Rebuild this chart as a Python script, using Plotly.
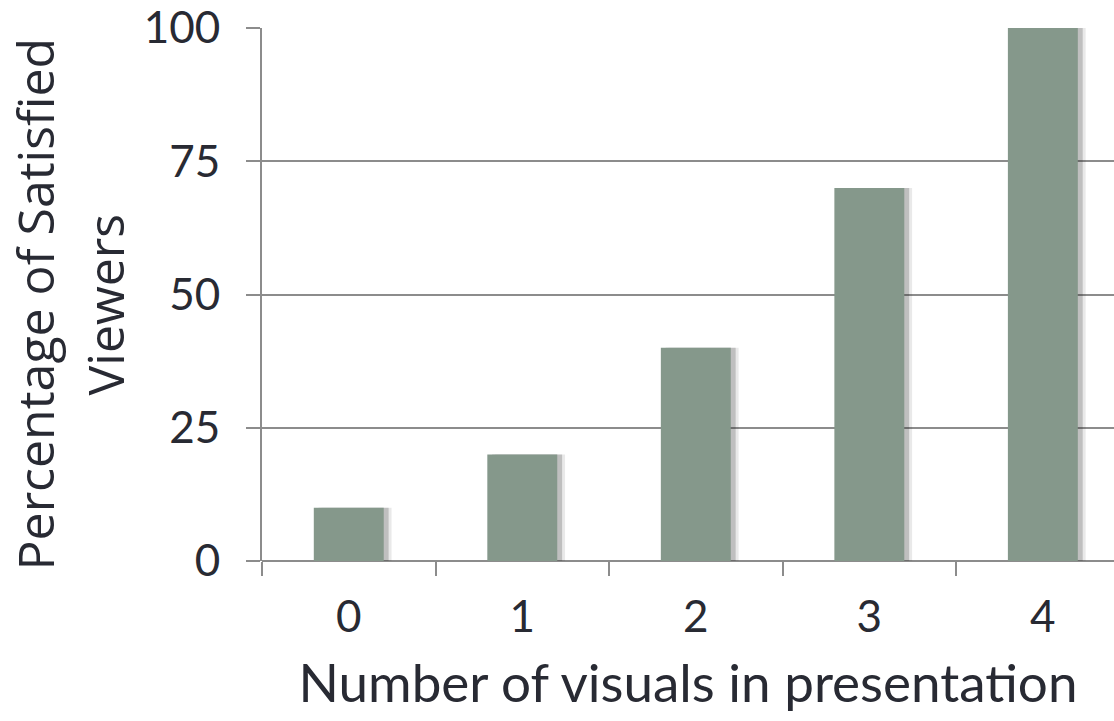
import plotly.graph_objects as go

# Survey results: satisfied viewers by number of visuals shown
visuals = ["0", "1", "2", "3", "4"]
satisfied_pct = [10, 20, 40, 70, 100]
y_ticks = [0, 25, 50, 75, 100]

TEXT = "#282a33"
GRID = "#8c8c8c"
BAR = "#85988b"
BAR_W = 0.403

fig = go.Figure()

# soft drop shadow to the right of each bar (two layers to fade it out)
for shift, alpha in [(0.045, 0.10), (0.028, 0.22)]:
    fig.add_trace(go.Bar(
        x=visuals, y=satisfied_pct, width=BAR_W, offset=-BAR_W / 2 + shift,
        marker=dict(color=f"rgba(40,40,40,{alpha})", line=dict(width=0)),
        hoverinfo="skip", showlegend=False,
    ))
fig.add_trace(go.Bar(
    x=visuals, y=satisfied_pct, width=BAR_W, offset=-BAR_W / 2,
    marker=dict(color=BAR, line=dict(width=0)),
    showlegend=False,
))

fig.update_layout(
    width=1114, height=721,
    margin=dict(l=262, r=0, t=28, b=160),
    paper_bgcolor="white", plot_bgcolor="white",
    barmode="overlay",
    font=dict(family="Lato", color=TEXT, size=44),
    xaxis=dict(
        type="category", range=[-0.5, 4.41],
        tickson="boundaries", ticks="outside", ticklen=14, tickwidth=2, tickcolor=GRID,
        showgrid=False, showline=False, zeroline=False,
        ticklabelstandoff=26,
        tickfont=dict(family="Lato", size=44, color=TEXT),
        title=dict(text="Number of visuals in presentation",
                   font=dict(family="Lato", size=53, color=TEXT), standoff=24),
    ),
    yaxis=dict(
        range=[0, 100], tickvals=y_ticks,
        ticks="outside", ticklen=14, tickwidth=2, tickcolor=GRID,
        showgrid=True, gridcolor=GRID, gridwidth=2,
        showline=True, linecolor=GRID, linewidth=2,
        zeroline=True, zerolinecolor=GRID, zerolinewidth=2,
        ticklabelstandoff=17,
        tickfont=dict(family="Lato", size=44, color=TEXT),
    ),
    annotations=[
        dict(text="Percentage of Satisfied", textangle=-90,
             xref="paper", yref="paper", x=0, y=0.5, xanchor="center", yanchor="middle",
             xshift=-228, yshift=-10, showarrow=False,
             font=dict(family="Open Sans", size=50, color=TEXT)),
        dict(text="Viewers", textangle=-90,
             xref="paper", yref="paper", x=0, y=0.5, xanchor="center", yanchor="middle",
             xshift=-158, yshift=-10, showarrow=False,
             font=dict(family="Open Sans", size=50, color=TEXT)),
    ],
)

fig.write_html("out.html")
